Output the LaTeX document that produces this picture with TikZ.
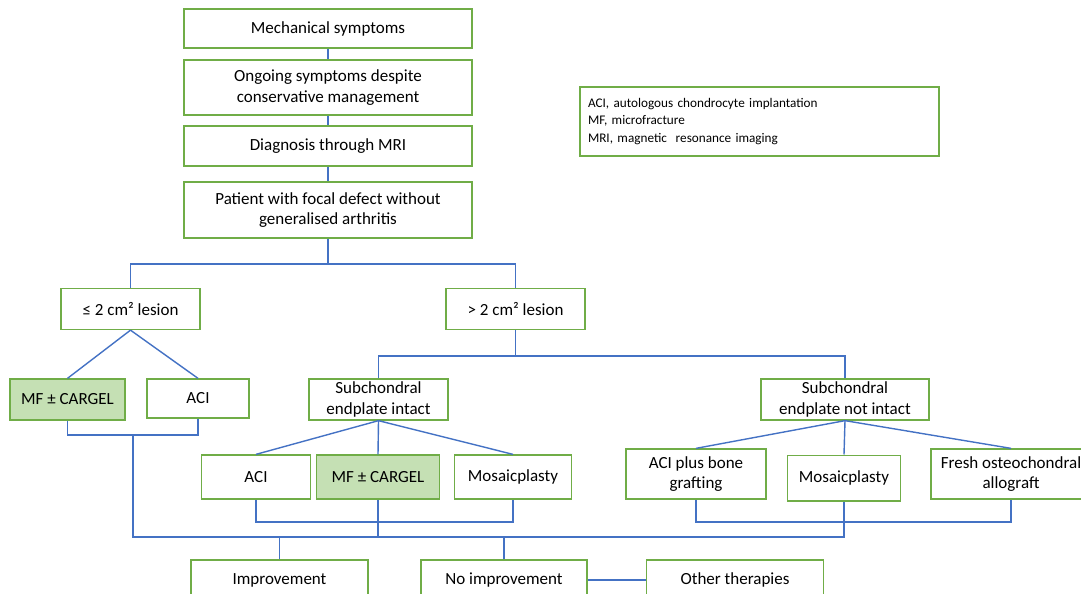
\documentclass[tikz,border=0pt]{standalone}
\usepackage{fontspec}
\setmainfont{Carlito}
\usepackage{tikz}
\usetikzlibrary{positioning}

\definecolor{boxgreen}{HTML}{70AD47}
\definecolor{boxfill}{HTML}{C5E0B4}
\definecolor{linkblue}{HTML}{4472C4}

\begin{document}
\begin{tikzpicture}[
    x=1pt, y=-1pt,
    font=\fontsize{17}{20.5}\selectfont,
    block/.style={
		rectangle,
		draw=boxgreen,
		line width=1.3pt,
		align=center,
		inner sep=2pt,
		fill=white
	},
	chosen/.style={
		block,
		fill=boxfill
	},
	link/.style={
		draw=linkblue,
		line width=1.4pt
	}
  ]
    \clip (0,0) rectangle (1081,594);

    % We start by placing the blocks
  \node [block, minimum width=288, minimum height=39] (mech) at (328,28.5) {Mechanical symptoms};
  \node [block, minimum width=288, minimum height=55] (ongoing) at (328,87.5)
 {Ongoing symptoms despite\\conservative management};
  \node [block, minimum width=288, minimum height=40] (diag) at (328,146) {Diagnosis through MRI};
  \node [block, minimum width=288, minimum height=56] (patient) at (328,210)
 {Patient with focal defect without\\generalised arthritis};

  \node [block, minimum width=359, minimum height=69, text width=343, align=left,
         font=\fontsize{13.2}{17.5}\selectfont] (legend) at (759.5,121.5)
 {ACI, autologous chondrocyte implantation\\
  MF, microfracture\\
  MRI, magnetic\ \ resonance imaging};

  \node [block, minimum width=139, minimum height=41] (small) at (130.5,309) {≤ 2 cm² lesion};
  \node [block, minimum width=139, minimum height=41] (large) at (515.5,309) {> 2 cm² lesion};

  \node [chosen, minimum width=115, minimum height=41] (mfA) at (67.5,399.5) {MF ± CARGEL};
  \node [block, minimum width=102, minimum height=39] (aciA) at (198,398.5) {ACI};

  \node [block, minimum width=139, minimum height=41] (intact) at (378.5,399.5)
 {Subchondral\\endplate intact};
  \node [block, minimum width=168, minimum height=41] (notintact) at (845,399.5)
 {Subchondral\\endplate not intact};

  \node [block, minimum width=109.5, minimum height=44] (aciB) at (256,477) {ACI};
  \node [chosen, minimum width=123, minimum height=44] (mfB) at (378,477) {MF ± CARGEL};
  \node [block, minimum width=117.5, minimum height=44] (mosB) at (513,477) {Mosaicplasty};

  \node [block, minimum width=140, minimum height=50] (aciC) at (696,474) {ACI plus bone\\grafting};
  \node [block, minimum width=113.6, minimum height=45.7] (mosC) at (844,478) {Mosaicplasty};
  \node [block, minimum width=160, minimum height=50] (fresh) at (1011,474)
 {Fresh osteochondral\\allograft};

  \node [block, minimum width=177, minimum height=40] (improve) at (279.5,580) {Improvement};
  \node [block, minimum width=166, minimum height=40] (noimp) at (504,580) {No improvement};
  \node [block, minimum width=176.6, minimum height=40] (other) at (735,580) {Other therapies};

  % junction points
  \coordinate (split1) at (328,264);
  \coordinate (split2) at (515.5,356);
  \coordinate (joinA) at (133,435);
  \coordinate (joinB) at (378,522);
  \coordinate (joinC) at (844,522);
  \coordinate (busL) at (133,537);

  \draw [link] (mech) -- (ongoing);
  \draw [link] (ongoing) -- (diag);
  \draw [link] (diag) -- (patient);
  \draw [link] (patient) -- (split1);
  \draw [link] (small.north) |- (split1) -| (large.north);

  \draw [link] (large) -- (split2);
  \draw [link] (intact.north) |- (split2) -| (notintact.north);

  \draw [link] (small.south) -- (mfA.north);
  \draw [link] (small.south) -- (aciA.north);
  \draw [link] (intact.south) -- (aciB.north);
  \draw [link] (intact.south) -- (mfB.north);
  \draw [link] (intact.south) -- (mosB.north);
  \draw [link] (notintact.south) -- (aciC.north);
  \draw [link] (notintact.south) -- (mosC.north);
  \draw [link] (notintact.south) -- (fresh.north);

  \draw [link] (mfA.south) |- (joinA) -| (aciA.south);
  \draw [link] (aciB.south) |- (joinB) -| (mosB.south);
  \draw [link] (aciC.south) |- (joinC) -| (fresh.south);

  \draw [link] (joinA) -- (busL) -- (mosC.south |- busL) -- (mosC.south);
  \draw [link] (mfB.south) -- (mfB.south |- busL);
  \draw [link] (improve.north) -- (improve.north |- busL);
  \draw [link] (noimp.north) -- (noimp.north |- busL);
  \draw [link] (noimp) -- (other);

\end{tikzpicture}
\end{document}
